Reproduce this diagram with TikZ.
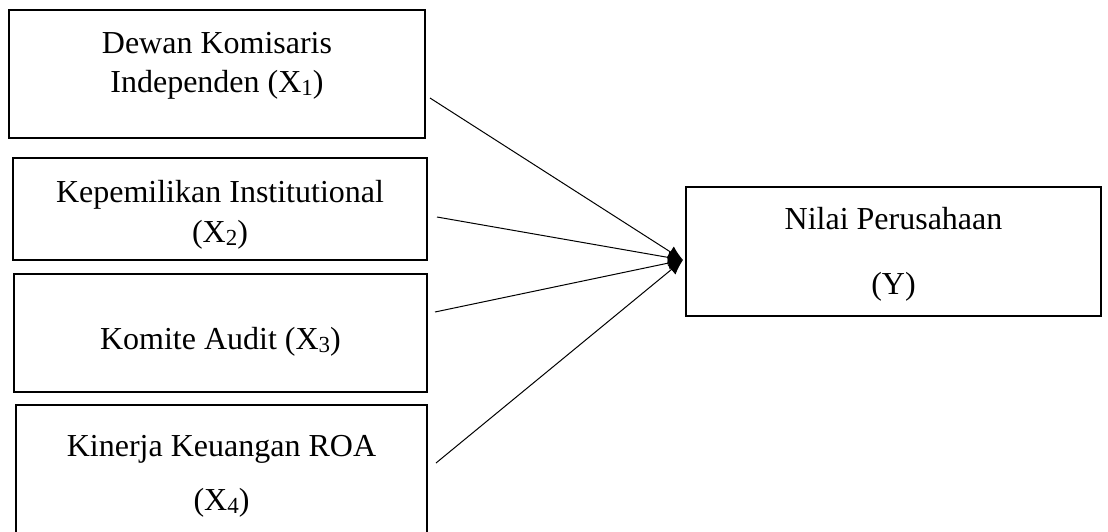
\documentclass[tikz,border=0pt]{standalone}
\usepackage{fontspec}
\setmainfont{Liberation Serif}
\usetikzlibrary{arrows.meta}

\newcommand{\idx}[1]{\raisebox{-3pt}{\fontsize{23}{23}\selectfont #1}}

\tikzset{
  box/.style={draw, line width=2.2pt, rectangle, inner sep=0pt},
  lbl/.style={anchor=base, inner sep=0pt, font=\fontsize{32}{38}\selectfont},
  link/.style={line width=1pt, -{Latex[length=15pt,width=13pt]}}
}

\begin{document}
\begin{tikzpicture}[x=1pt, y=-1pt]
      \path[use as bounding box, clip] (0,0) rectangle (1108,531);

      % variabel bebas
      \node[box, minimum width=416pt, minimum height=128pt] (x1) at (217,74) {};
      \node[box, minimum width=414pt, minimum height=102pt] (x2) at (220,209) {};
      \node[box, minimum width=413pt, minimum height=118pt] (x3) at (220.5,333) {};
      \node[box, minimum width=411pt, minimum height=140pt] (x4) at (221.5,475) {};

      \node[lbl] (x1a) at (217,53) {Dewan Komisaris};
      \node[lbl] (x1b) at (217,92) {Independen (X\idx{1})};
      \node[lbl] (x2a) at (220,202) {Kepemilikan Institutional};
      \node[lbl] (x2b) at (220,242) {(X\idx{2})};
      \node[lbl] (x3a) at (220.5,349) {Komite Audit (X\idx{3})};
      \node[lbl] (x4a) at (221.5,456) {Kinerja Keuangan ROA};
      \node[lbl] (x4b) at (221.5,510) {(X\idx{4})};

      % variabel terikat
      \node[box, minimum width=415pt, minimum height=129pt] (y) at (893.5,251.5) {};
      \node[lbl] (ya) at (893.5,229) {Nilai Perusahaan};
      \node[lbl] (yb) at (893.5,294) {(Y)};

      \coordinate (s1) at (430,98);
      \coordinate (s2) at (437,217);
      \coordinate (s3) at (435,312);
      \coordinate (s4) at (436,463);
      \coordinate (t) at (683,260);

      \draw[link] (s1)--(t);
      \draw[link] (s2)--(t);
      \draw[link] (s3)--(t);
      \draw[link] (s4)--(t);
    \end{tikzpicture}
\end{document}
